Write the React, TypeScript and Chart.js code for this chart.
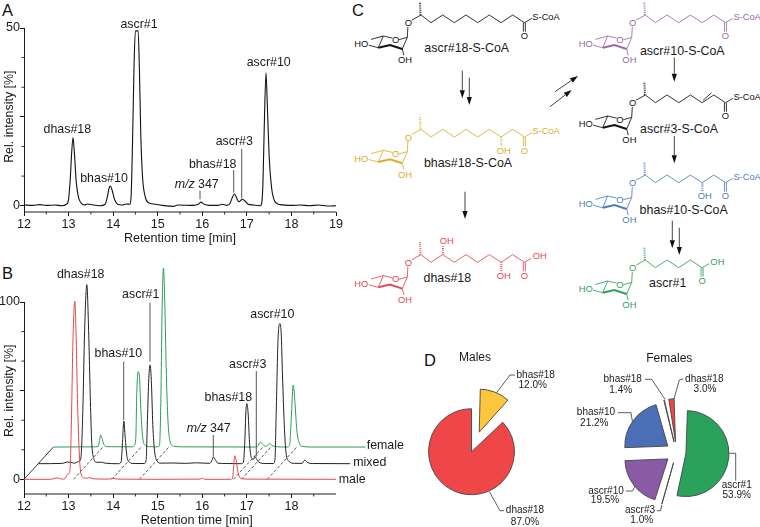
import React, { useEffect, useRef } from "react";
import { Chart, registerables } from "chart.js";

Chart.register(...registerables);

const FONT = '"Liberation Sans", Arial, sans-serif';

// ---------- Panel A data ----------
const timesA = [12,12.2,12.35,12.5,12.7,12.85,12.95,13,13.04,13.07,13.1,13.13,13.17,13.22,13.28,13.35,13.43,13.55,13.7,13.82,13.87,13.91,13.94,13.98,14.03,14.1,14.2,14.3,14.37,14.4,14.43,14.47,14.5,14.56,14.59,14.62,14.66,14.72,14.8,14.9,15.1,15.35,15.45,15.8,15.92,15.97,16.03,16.15,16.35,16.45,16.55,16.62,16.67,16.72,16.77,16.82,16.9,16.95,17.02,17.15,17.3,17.33,17.36,17.39,17.43,17.46,17.5,17.55,17.6,17.68,17.75,18,18.2,18.4,18.6,18.85,19];
const valuesA = [0.2,0.1,0.3,0.1,0.2,0,0.4,1.8,8,15,19.2,15,7,2.5,0.8,0.2,0.5,0.2,0,0.4,2.5,5,5.5,4.2,1.8,0.4,0.2,0.5,0.4,2,15,40,49.2,49.2,38,20,8,2.5,0.8,0.5,0.1,-0.2,0.2,0.1,0.5,1,0.5,0.1,0.1,0.4,0.1,0.6,2.2,3.3,2.2,1.1,1.8,1.4,0.5,0.2,0,0.5,6,22,37.4,28,14,5.5,2,0.6,0.3,0.1,0.2,0,0.2,-0.1,0];

// ---------- Panel B data ----------
const timesMale = [12,12.6,12.7,12.75,12.85,12.92,12.97,13,13.03,13.06,13.1,13.14,13.17,13.2,13.24,13.28,13.35,13.42,13.47,13.55,13.9,14,14.1,15,15.95,16,16.06,16.62,16.68,16.7,16.73,16.77,16.81,16.87,17,19];
const valuesMale = [0,0,0.6,0.8,0.1,0.4,2.5,3,5,28,80,100.5,80,45,15,3,0.8,0.6,1,0.3,0.1,0.5,0.1,0,0.1,0.6,0,0,0.5,6,13.3,9,3,0.5,0.1,0];
const timesMixed = [12,12.55,12.65,12.72,12.82,12.88,12.93,12.96,13,13.04,13.09,13.13,13.17,13.2,13.25,13.3,13.42,13.5,13.8,13.86,13.89,13.92,13.95,13.99,14.05,14.15,14.38,14.42,14.45,14.48,14.51,14.54,14.57,14.61,14.67,14.75,15,15.3,15.55,15.85,15.9,15.93,15.97,16.03,16.25,16.55,16.6,16.63,16.66,16.68,16.71,16.74,16.78,16.83,16.86,16.9,16.95,17.1,17.28,17.31,17.34,17.38,17.42,17.45,17.48,17.52,17.56,17.62,17.75,17.92,17.98,18.05,18.15,19];
const valuesMixed = [0,0.2,1,0.8,0.3,1,1.5,4,30,75,101,75,35,12,2.5,0.8,0.8,0.3,0,1,12,24,15,4,0.8,0.1,0.1,2,25,48,55.7,45,22,7,1.5,0.3,0.4,0.2,0.5,0.2,2,3.8,2.3,0.3,0.1,0,0.6,10,30,33.9,28,12,3.5,2.5,4,2.5,0.8,0.1,0.1,2,30,70,79,74,50,22,6,1.5,0.2,0.2,2,0.6,0.1,0];
const timesFemale = [12,12.9,13,13.03,13.06,13.09,13.13,13.2,13.78,13.82,13.85,13.87,13.9,13.93,13.96,14,14.06,14.15,14.34,14.38,14.41,14.44,14.47,14.5,14.53,14.57,14.62,14.7,14.9,16.5,16.58,16.64,16.7,16.76,16.85,16.9,16.97,17.25,17.3,17.34,17.38,17.42,17.46,17.52,17.6,17.8,19];
const valuesFemale = [0,0.1,0.3,3,6.8,5,1.5,0.2,0.1,1,6,30,42.5,40,22,6,1,0.2,0.1,1,25,80,101,80,45,15,3,0.5,0.1,0,0.3,2.7,1.5,0.3,1.9,1,0.2,0,1,18,35,25,10,2,0.3,0,0];
const mixedShift = [0.32, 8.8];
const femaleShift = [0.66, 18.2];
const dashedTimes = [13.11, 13.97, 14.59, 16.7, 16.88, 17.46];

// ---------- Panel D data ----------
const maleNames = ["bhas#18", "rest", "dhas#18"];
const maleShares = [12.0, 1.0, 87.0];
const femaleNames = ["ascr#1", "ascr#3", "ascr#10", "bhas#10", "bhas#18", "dhas#18"];
const femaleShares = [53.9, 1.0, 19.5, 21.2, 1.4, 3.0];

// ---------- helpers ----------
type Pt = [number, number];
const zip = (t: number[], v: number[], s: number[] = [0, 0]) => t.map((x, i) => ({ x: x + s[0], y: v[i] + s[1] }));

function text(ctx: any, s: string, x: number, y: number, size = 12.4, align = "center", color = "#1a1a1a", style = "") {
  ctx.save();
  ctx.font = `${style} ${size}px ${FONT}`;
  ctx.fillStyle = color;
  ctx.textAlign = align;
  ctx.textBaseline = "middle";
  ctx.fillText(s, x, y);
  ctx.restore();
}
function mz(ctx: any, x: number, y: number) {
  ctx.save();
  ctx.font = `italic 12.4px ${FONT}`;
  const a = ctx.measureText("m/z").width;
  ctx.font = `12.4px ${FONT}`;
  const b = ctx.measureText(" 347").width;
  ctx.restore();
  const left = x - (a + b) / 2;
  text(ctx, "m/z", left, y, 12.4, "left", "#1a1a1a", "italic");
  text(ctx, " 347", left + a, y, 12.4, "left");
}
function path(ctx: any, pts: Pt[], color = "#333", w = 0.8) {
  ctx.save();
  ctx.strokeStyle = color;
  ctx.lineWidth = w;
  ctx.beginPath();
  pts.forEach((p, i) => (i ? ctx.lineTo(p[0], p[1]) : ctx.moveTo(p[0], p[1])));
  ctx.stroke();
  ctx.restore();
}

function traceChart(canvas: HTMLCanvasElement, cfg: any) {
  const { top, area, yMin, yMax, xMax, datasets, yMajor, yMinor, yTitle, labels, leaders, series } = cfg;
  const W = canvas.width, H = canvas.height;
  const annot = {
    id: "annot",
    afterDraw(c: any) {
      const ctx = c.ctx, xs = c.scales.x, ys = c.scales.y;
      const bottom = ys.bottom, left = xs.left;
      // x axis line and minor ticks stop at 19 min
      path(ctx, [[left, bottom], [xs.getPixelForValue(19), bottom]], "#1a1a1a", 1);
      for (let v = 12.5; v < 19; v += 1) {
        const px = xs.getPixelForValue(v);
        path(ctx, [[px, bottom], [px, bottom + 2.5]], "#1a1a1a", 0.9);
      }
      yMinor.forEach((v: number) => {
        const py = ys.getPixelForValue(v);
        path(ctx, [[left - 2.5, py], [left, py]], "#1a1a1a", 0.9);
      });
      ctx.save();
      ctx.translate(yTitle[0], yTitle[1] - top);
      ctx.rotate(-Math.PI / 2);
      text(ctx, "Rel. intensity [%]", 0, 0, 12.4);
      ctx.restore();
      leaders.forEach((l: number[]) => path(ctx, [[l[0], l[1] - top], [l[0], l[2] - top]], "#444", 0.9));
      labels.forEach((l: any[]) => (l[0] === "m/z 347" ? mz(ctx, l[1], l[2] - top) : text(ctx, l[0], l[1], l[2] - top)));
      (series || []).forEach((l: any[]) => text(ctx, l[0], l[1], l[2] - top, 12.4, "left"));
    },
  };
  return new Chart(canvas, {
    type: "line",
    data: { datasets },
    plugins: [annot],
    options: {
      animation: false,
      responsive: false,
      devicePixelRatio: 1,
      layout: { padding: { left: 0, top: area.top - top, right: W - area.right, bottom: H - (area.bottom - top) - 34 } },
      elements: { point: { radius: 0 }, line: { cubicInterpolationMode: "monotone", borderWidth: 1 } },
      plugins: { legend: { display: false }, tooltip: { enabled: false }, title: { display: false } },
      scales: {
        x: {
          type: "linear",
          min: 12,
          max: xMax,
          afterFit: (s: any) => { s.height = 34; },
          afterBuildTicks: (s: any) => { s.ticks = s.ticks.filter((t: any) => t.value <= 19); },
          border: { display: false },
          grid: { drawOnChartArea: false, tickLength: 4, tickColor: "#1a1a1a", tickWidth: 1 },
          ticks: { stepSize: 1, color: "#1a1a1a", font: { family: FONT, size: 12.6 }, padding: 0.5, maxRotation: 0, autoSkip: false, callback: (v: any) => String(v) },
          title: { display: true, text: "Retention time [min]", color: "#1a1a1a", font: { family: FONT, size: 12.6 }, padding: 0 },
        },
        y: {
          type: "linear",
          min: yMin,
          max: yMax,
          afterFit: (s: any) => { s.width = area.left; },
          afterBuildTicks: (s: any) => { s.ticks = yMajor.map((value: number) => ({ value })); },
          border: { display: true, color: "#1a1a1a", width: 1 },
          grid: { drawOnChartArea: false, tickLength: 4, tickColor: "#1a1a1a", tickWidth: 1 },
          ticks: { color: "#1a1a1a", font: { family: FONT, size: 12.6 }, padding: 0, callback: (v: any) => (v === yMajor[1] ? "" : String(v)) },
        },
      },
    } as any,
  });
}

const PIE_R = 43;

function pieChart(canvas: HTMLCanvasElement, cfg: any) {
  const { left, top, cx, cy, half, names, shares, colors, offsets, widths, title, labels, leaders } = cfg;
  const W = canvas.width, H = canvas.height;
  const annot = {
    id: "pieAnnot",
    // Chart.js grows an offset arc by offset/4 * (1 - sin(angle)); pull it back so every slice keeps the same radius.
    beforeDatasetsDraw(c: any) {
      c.getDatasetMeta(0).data.forEach((arc: any, i: number) => {
        const fix = 1 - Math.sin(Math.min(Math.PI, arc.circumference || 0));
        arc.outerRadius = PIE_R - (offsets[i] / 4) * fix;
      });
    },
    afterDraw(c: any) {
      const ctx = c.ctx;
      text(ctx, title[0], title[1] - left, title[2] - top, 12);
      leaders.forEach((l: Pt[]) => path(ctx, l.map((p) => [p[0] - left, p[1] - top] as Pt), "#333", 0.8));
      labels.forEach((l: any[]) => text(ctx, l[0], l[1] - left, l[2] - top, 10));
    },
  };
  return new Chart(canvas, {
    type: "pie",
    data: { labels: names, datasets: [{ data: shares, backgroundColor: colors, offset: offsets, borderColor: "#444", borderWidth: widths }] },
    plugins: [annot],
    options: {
      animation: false,
      responsive: false,
      devicePixelRatio: 1,
      rotation: 0,
      radius: PIE_R,
      layout: { padding: { left: cx - left - half, right: W - (cx - left) - half, top: cy - top - half, bottom: H - (cy - top) - half } },
      plugins: { legend: { display: false }, tooltip: { enabled: false } },
    } as any,
  });
}

const z5 = (x: number, y: number): Pt => [400 + x / 3, 340 + y / 3];

// ---------- Panel C: structural formulae ----------
const ATOM = 9.4;
function Atom({ x, y, c, s = ATOM, a = "middle", children }: any) {
  return (
    <text x={x} y={y} fill={c} fontSize={s} textAnchor={a} dominantBaseline="central" fontFamily={FONT}>{children}</text>
  );
}
function Molecule({ x, y, c, count, acid, ohDown, ohUp, alkene }: any) {
  const nodes: Pt[] = [[12.7, -7.7]];
  for (let i = 1; i < count; i++) {
    const p = nodes[i - 1];
    nodes.push([p[0] + (i === 1 ? 10 : 11.67), i % 2 ? 0 : -7.7]);
  }
  const last = nodes[count - 1];
  const pts = (a: Pt[]) => a.map((p) => p.join(",")).join(" ");
  const L = (p: Pt, q: Pt, w = 0.85, dash?: string) => (
    <line x1={p[0]} y1={p[1]} x2={q[0]} y2={q[1]} stroke={c} strokeWidth={w} strokeDasharray={dash} />
  );
  return (
    <g transform={`translate(${x} ${y})`}>
      <Atom x={0} y={0} c={c}>O</Atom>
      {L([3.5, -2.6], nodes[0])}
      {L([nodes[0][0] - 0.5, nodes[0][1]], [nodes[0][0] - 1, -20], 2, "0.8 1.1")}
      <polyline points={pts(nodes)} fill="none" stroke={c} strokeWidth={0.85} />
      {alkene !== undefined && L([nodes[alkene][0] + 1, nodes[alkene][1] - 2.4], [nodes[alkene + 1][0] - 2.2, nodes[alkene + 1][1] - 2.2])}
      {L([last[0] - 1, last[1]], [last[0] - 1, last[1] + 9])}
      {L([last[0] + 1, last[1]], [last[0] + 1, last[1] + 9])}
      <Atom x={last[0]} y={last[1] + 13.3} c={c}>O</Atom>
      {acid ? (
        <>
          {L(last, [last[0] + 7, last[1] - 4])}
          <Atom x={last[0] + 15.3} y={last[1] - 6.7} c={c}>OH</Atom>
        </>
      ) : (
        <>
          {L(last, [last[0] + 7.5, last[1] - 4.3])}
          <Atom x={last[0] + 8} y={last[1] - 6} c={c} a="start" s={9.3}>S-CoA</Atom>
        </>
      )}
      {ohDown !== undefined && L([nodes[ohDown][0] + 0.3, nodes[ohDown][1]], [nodes[ohDown][0] + 0.3, nodes[ohDown][1] + 9.5], 2, "0.8 1.1")}
      {ohDown !== undefined && <Atom x={nodes[ohDown][0] + 2.7} y={nodes[ohDown][1] + 13.3} c={c}>OH</Atom>}
      {ohUp !== undefined && L([nodes[ohUp][0] + 0.3, nodes[ohUp][1]], [nodes[ohUp][0] + 0.3, nodes[ohUp][1] - 8.5], 2, "0.8 1.1")}
      {ohUp !== undefined && <Atom x={nodes[ohUp][0] + 4} y={nodes[ohUp][1] - 14.3} c={c}>OH</Atom>}
      {/* sugar */}
      {L([-0.4, 4.2], [-1, 14.7])}
      <polyline points={pts([[-9.4, 17], [-1, 14.7], [-6, 26.3]])} fill="none" stroke={c} strokeWidth={0.85} />
      <polyline points={pts([[-16, 15.4], [-25, 13.3], [-30, 25]])} fill="none" stroke={c} strokeWidth={0.85} />
      <polyline points={pts([[-30, 25], [-18.3, 22.3], [-6, 26.3]])} fill="none" stroke={c} strokeWidth={2} />
      {L([-25, 13.3], [-37.3, 16.7])}
      {L([-30, 25], [-39.5, 22.5])}
      {L([-6, 26.3], [-4.5, 32.5])}
      <Atom x={-12.7} y={16.7} c={c}>O</Atom>
      <Atom x={-47} y={21.3} c={c}>HO</Atom>
      <Atom x={-3.3} y={37.3} c={c}>OH</Atom>
    </g>
  );
}
function Arrow({ a, b }: { a: Pt; b: Pt }) {
  const ang = Math.atan2(b[1] - a[1], b[0] - a[0]);
  const h = 8, w = 2.6;
  const bx = b[0] - h * Math.cos(ang), by = b[1] - h * Math.sin(ang);
  const nx = -Math.sin(ang) * w, ny = Math.cos(ang) * w;
  return (
    <g>
      <line x1={a[0]} y1={a[1]} x2={bx} y2={by} stroke="#222" strokeWidth={0.85} />
      <polygon points={`${b[0]},${b[1]} ${bx + nx},${by + ny} ${bx - nx},${by - ny}`} fill="#111" />
    </g>
  );
}
const arrows: [Pt, Pt][] = [
  [[462.3, 70.7], [462.3, 98.3]], [[469.3, 77.7], [469.3, 105]], [[465, 191.7], [465, 219]],
  [[674.3, 57.3], [674.3, 81.7]], [[674.3, 136], [674.3, 163.3]], [[672.3, 220.7], [672.3, 248.3]], [[679.3, 227.7], [679.3, 255]],
  [[550, 106.7], [571.7, 90]], [[555, 91.7], [578, 76]],
];
const names: [string, number, number][] = [
  ["ascr#18-S-CoA", 466.7, 47.7], ["bhas#18-S-CoA", 468, 163.3], ["dhas#18", 447.3, 278.3],
  ["ascr#10-S-CoA", 682.3, 51], ["ascr#3-S-CoA", 679, 129], ["bhas#10-S-CoA", 683.7, 210], ["ascr#1", 667.7, 282.7],
];
const letters: [string, number, number][] = [["A", 2, 10], ["B", 2, 272.5], ["C", 352, 9.5], ["D", 424, 359.5]];

const YEL = "#d8b02c", RED = "#e64750", PUR = "#9a69a9", BLU = "#4f7db9", GRN = "#2f9e5f", BLK = "#111";

export default function App() {
  const aRef = useRef<HTMLCanvasElement>(null);
  const bRef = useRef<HTMLCanvasElement>(null);
  const mRef = useRef<HTMLCanvasElement>(null);
  const fRef = useRef<HTMLCanvasElement>(null);

  useEffect(() => {
    const charts = [
      traceChart(aRef.current!, {
        top: 0,
        area: { left: 24, right: 336, top: 28, bottom: 212 },
        yMin: -1.77, yMax: 50, xMax: 19,
        yMajor: [0, 25, 50], yMinor: [8.33, 16.67, 33.33, 41.67],
        yTitle: [10, 116.7],
        datasets: [{ data: zip(timesA, valuesA), borderColor: "#111", borderWidth: 1.1 }],
        labels: [["ascr#1", 139, 24.3], ["ascr#10", 268.7, 62.7], ["dhas#18", 67.3, 130], ["bhas#10", 104, 178.3], ["ascr#3", 234.3, 141.3], ["bhas#18", 212.7, 164.7], ["m/z 347", 196.7, 184.3]],
        leaders: [[233.7, 170, 192.7], [241.7, 149, 198.3], [200, 190.7, 199.3]],
      }),
      traceChart(bRef.current!, {
        top: 255,
        area: { left: 24, right: 369.4, top: 302, bottom: 494 },
        yMin: -8.29, yMax: 100, xMax: 19.75,
        yMajor: [0, 50, 100], yMinor: [16.67, 33.33, 66.67, 83.33],
        yTitle: [10, 390.8],
        datasets: [
          { data: zip(timesMale, valuesMale), borderColor: "#e2474d", clip: false },
          { data: zip(timesMixed, valuesMixed, mixedShift), borderColor: "#222", clip: false },
          { data: zip(timesFemale, valuesFemale, femaleShift), borderColor: "#2e9a58", clip: false },
          { data: [{ x: 12, y: 0 }, { x: 12 + femaleShift[0], y: femaleShift[1] }], borderColor: "#222", borderWidth: 0.9, cubicInterpolationMode: "default", clip: false },
          ...dashedTimes.map((t) => ({ data: [{ x: t, y: 0 }, { x: t + femaleShift[0], y: femaleShift[1] }], borderColor: "#222", borderWidth: 0.75, borderDash: [3, 2], cubicInterpolationMode: "default", clip: false })),
        ],
        labels: [["dhas#18", 80.7, 275], ["ascr#1", 140.7, 294.3], ["bhas#10", 118.3, 354], ["ascr#10", 272.3, 314.7], ["ascr#3", 247.7, 364.3], ["bhas#18", 228.3, 397.3], ["m/z 347", 208.7, 428.3]],
        leaders: [[150, 302.7, 361.7], [123.7, 361.7, 420], [256.3, 371, 456.7], [213.3, 435, 456.7]],
        series: [["female", 366.7, 446], ["mixed", 353.3, 462.7], ["male", 338.7, 479.3]],
      }),
      pieChart(mRef.current!, {
        left: 400, top: 340, cx: 469, cy: 451.7, half: 74,
        names: maleNames, shares: maleShares,
        colors: ["#fcc73c", "rgba(0,0,0,0)", "#ef4749"], offsets: [84, 0, 0], widths: [0.9, 0, 0.9],
        title: ["Males", 475, 358],
        labels: [["bhas#18", 535.7, 375], ["12.0%", 532.7, 385], ["dhas#18", 525, 510.7], ["87.0%", 525, 522]],
        leaders: [[z5(290, 158), z5(330, 105), z5(345, 105)], [z5(268, 455), z5(300, 512), z5(312, 512)]],
      }),
      pieChart(fRef.current!, {
        left: 560, top: 340, cx: 676.5, cy: 452.4, half: 74,
        names: femaleNames, shares: femaleShares,
        colors: ["#2ba25c", "#333333", "#8b5aa5", "#4a6fb6", "#fcc73c", "#ef4749"], offsets: [38, 43, 43, 43, 43, 43], widths: [0.9, 0.9, 0.9, 0.9, 0.9, 0.9],
        title: ["Females", 669.3, 359],
        labels: [
          ["bhas#18", 622.7, 379.3], ["1.4%", 620.7, 390],
          ["dhas#18", 704.3, 379], ["3.0%", 705, 389],
          ["bhas#10", 596, 412.7], ["21.2%", 594.3, 423.3],
          ["ascr#10", 606, 491], ["19.5%", 605, 500.7],
          ["ascr#3", 640, 510.7], ["1.0%", 641.7, 520],
          ["ascr#1", 736.7, 485], ["53.9%", 736.7, 495],
        ],
        leaders: [
          [[645, 379.3], [651.7, 379.3], [665, 399.3]],
          [[683.3, 379], [679.3, 380], [674, 399]],
          [[617.7, 412.7], [631, 412.7], [632.3, 421]],
          [[626, 491], [632.7, 491], [635, 486]],
          [[656.7, 510.7], [660.7, 510.7], [661.7, 505]],
          [[735.7, 480.7], [735.7, 453.3], [729.3, 453.3]],
        ],
      }),
    ];
    return () => charts.forEach((c) => c.destroy());
  }, []);

  const abs = (left: number, top: number): React.CSSProperties => ({ position: "absolute", left, top, display: "block" });
  return (
    <div style={{ position: "absolute", left: 0, top: 0, width: 760, height: 527, overflow: "hidden", background: "#fff" }}>
      <svg width={760} height={527} style={abs(0, 0)}>
        {letters.map(([s, x, y]) => (
          <text key={s} x={x} y={y} fontSize={16.5} fontFamily={FONT} fill="#111" dominantBaseline="central">{s}</text>
        ))}
        <Molecule x={408.3} y={22.7} c={BLK} count={10} />
        <Molecule x={408.3} y={137} c={YEL} count={10} ohDown={7} />
        <Molecule x={408.3} y={262.3} c={RED} count={10} acid ohDown={7} ohUp={2} />
        <Molecule x={632.7} y={22.7} c={PUR} count={8} />
        <Molecule x={632.7} y={102.7} c={BLK} count={8} alkene={5} />
        <Molecule x={632.7} y={182.7} c={BLU} count={8} ohDown={5} />
        <Molecule x={632.7} y={267.7} c={GRN} count={6} acid />
        {arrows.map((a, i) => <Arrow key={i} a={a[0]} b={a[1]} />)}
        {names.map(([s, x, y]) => (
          <text key={s} x={x} y={y} fontSize={12.4} fontFamily={FONT} fill="#1a1a1a" textAnchor="middle" dominantBaseline="central">{s}</text>
        ))}
      </svg>
      <canvas ref={aRef} width={350} height={250} style={abs(0, 0)} />
      <canvas ref={bRef} width={420} height={272} style={abs(0, 255)} />
      <canvas ref={mRef} width={190} height={187} style={abs(400, 340)} />
      <canvas ref={fRef} width={200} height={187} style={abs(560, 340)} />
    </div>
  );
}
